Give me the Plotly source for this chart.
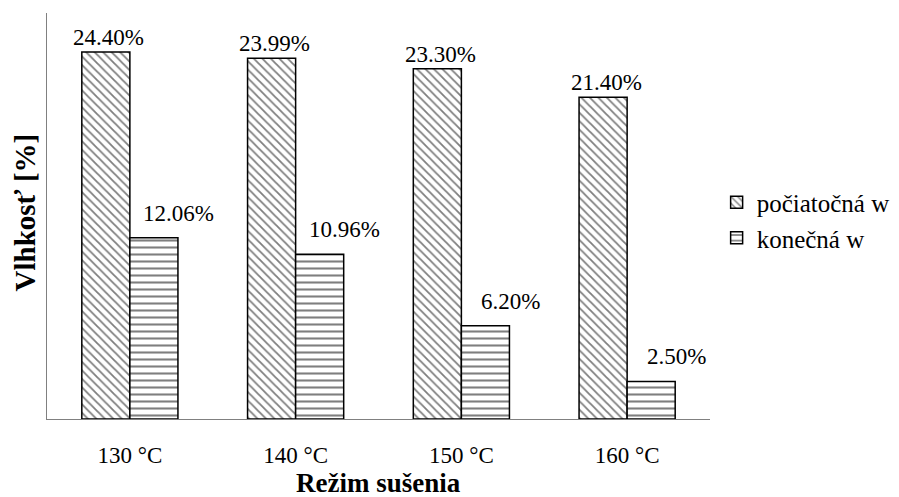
import plotly.graph_objects as go

categories = ["130 °C", "140 °C", "150 °C", "160 °C"]
initial_w = [24.40, 23.99, 23.30, 21.40]
final_w = [12.06, 10.96, 6.20, 2.50]
series_names = ["počiatočná w", "konečná w"]
y_title = "Vlhkosť [%]"
x_title = "Režim sušenia"

FONT = "Liberation Serif, Times New Roman, serif"

fig = go.Figure()
fig.add_trace(go.Bar(
    x=categories, y=initial_w, name=series_names[0], legendgroup="a",
    marker=dict(color="white", line=dict(color="black", width=1.5),
                pattern=dict(shape="\\", fgcolor="black", bgcolor="white",
                             size=6, solidity=0.3)),
))
fig.add_trace(go.Bar(
    x=categories, y=final_w, name=series_names[1], legendgroup="b",
    marker=dict(color="white", line=dict(color="black", width=1.5),
                pattern=dict(shape="-", fgcolor="black", bgcolor="white",
                             size=7, solidity=0.3)),
))

annotations = []
for cat, v in zip(categories, initial_w):
    annotations.append(dict(x=cat, y=v, xref="x", yref="y", text=f"{v:.2f}%",
                            showarrow=False, yanchor="bottom", xanchor="center",
                            xshift=-24 + 3, yshift=0,
                            font=dict(family=FONT, size=23, color="black")))
for cat, v in zip(categories, final_w):
    annotations.append(dict(x=cat, y=v, xref="x", yref="y", text=f"{v:.2f}%",
                            showarrow=False, yanchor="bottom", xanchor="center",
                            xshift=24 + 25, yshift=10,
                            font=dict(family=FONT, size=23, color="black")))

annotations.append(dict(x=-0.033, y=0.509, xref="paper", yref="paper", text=y_title,
                        textangle=-90, showarrow=False, xanchor="center", yanchor="middle",
                        font=dict(family=FONT, size=29, color="black", weight="bold")))
annotations.append(dict(x=0.5, y=-0.157, xref="paper", yref="paper", text=x_title,
                        showarrow=False, xanchor="center", yanchor="middle",
                        font=dict(family=FONT, size=27, color="black", weight="bold")))

fig.update_layout(
    width=899, height=497,
    margin=dict(l=47, r=189, t=13, b=78, autoexpand=False),
    paper_bgcolor="white", plot_bgcolor="white",
    barmode="group", bargap=0.42, bargroupgap=0,
    font=dict(family=FONT, color="black"),
    showlegend=True,
    legend=dict(x=1.01, y=0.49, xanchor="left", yanchor="middle",
                font=dict(family=FONT, size=25, color="black"),
                tracegroupgap=10, traceorder="normal"),
    annotations=annotations,
)
fig.update_xaxes(showline=True, linecolor="#808080", linewidth=1, ticks="",
                 tickfont=dict(family=FONT, size=23, color="black"),
                 ticklabelstandoff=15, showgrid=False, zeroline=False)
fig.update_yaxes(range=[0, 27], showline=True, linecolor="#808080", linewidth=1,
                 showticklabels=False, ticks="", showgrid=False, zeroline=False)

fig.write_html("out.html")
